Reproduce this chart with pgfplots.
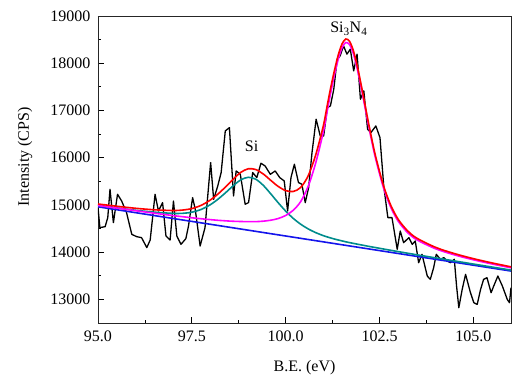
\documentclass[border=0pt]{standalone}
\usepackage{pgfplots}
\usepackage{pgfplotstable}
\pgfplotsset{compat=1.18}
\usepackage{fontspec}
\setmainfont{Liberation Serif}
\definecolor{fitred}{RGB}{255,0,0}
\definecolor{fitmag}{RGB}{255,0,255}
\definecolor{fitteal}{RGB}{0,140,140}
\definecolor{fitblue}{RGB}{20,20,235}

\pgfplotstableread{
x y
95.00 14943
95.05 14519
95.19 14540
95.26 14731
95.32 15331
95.41 14625
95.52 15225
95.63 15083
95.76 14837
95.90 14377
96.03 14328
96.16 14307
96.30 14096
96.39 14257
96.52 15225
96.61 14871
96.72 15049
96.81 14342
96.92 14257
97.01 15083
97.10 14342
97.21 14165
97.34 14286
97.41 14553
97.52 15155
97.59 14907
97.72 14130
97.85 14519
98.00 15897
98.08 15119
98.19 15402
98.28 15685
98.39 16566
98.50 16637
98.61 15190
98.68 15719
98.79 15649
98.92 15013
99.01 15049
99.12 15685
99.23 15579
99.34 15882
99.45 15825
99.59 15649
99.72 15719
99.84 15579
99.96 15508
100.05 14871
100.14 15579
100.23 15861
100.34 15473
100.43 15437
100.52 15049
100.61 15367
100.70 16108
100.81 16814
100.92 16460
101.01 16460
101.11 17062
101.19 17096
101.28 17450
101.37 18085
101.45 18156
101.54 18368
101.63 18192
101.72 18297
101.81 17838
101.90 18192
101.99 17238
102.08 17415
102.18 16602
102.27 16532
102.40 16672
102.51 16426
102.61 15402
102.72 14731
102.83 14731
102.97 14060
103.05 14448
103.14 14201
103.28 14307
103.37 14165
103.45 14236
103.54 13777
103.63 13954
103.77 13494
103.85 13424
103.94 13672
104.01 13954
104.12 13848
104.21 13883
104.30 13812
104.39 13777
104.49 13848
104.55 13283
104.61 12824
104.70 13212
104.79 13530
104.92 13142
105.01 12930
105.10 12894
105.19 13212
105.27 13424
105.36 13460
105.47 13142
105.54 13283
105.65 13494
105.77 13283
105.90 13000
105.96 12930
106.00 13250
}\rawdata

\pgfplotstableread{
x teal mag red
95.0 14990 14990 15020
95.5 14937 14933 14972
96.0 14887 14878 14929
96.5 14847 14825 14897
97.0 14821 14774 14882
97.25 14822 14751 14891
97.5 14846 14728 14923
97.75 14905 14707 14992
98.0 15009 14688 15108
98.2 15124 14674 15234
98.4 15260 14663 15383
98.6 15405 14654 15544
98.8 15529 14649 15688
99.0 15585 14646 15765
99.2 15545 14646 15750
99.4 15416 14656 15656
99.6 15236 14676 15521
99.8 15046 14712 15391
100.0 14868 14777 15303
100.2 14715 14887 15285
100.4 14591 15073 15371
100.6 14491 15398 15621
100.8 14413 15893 16063
101.0 14350 16538 16670
101.1 14324 16966 17084
101.2 14300 17384 17490
101.3 14277 17760 17856
101.4 14257 18089 18177
101.5 14238 18329 18410
101.6 14219 18438 18513
101.7 14202 18394 18464
101.8 14186 18205 18271
101.9 14170 17899 17962
102.0 14155 17521 17581
102.1 14140 17112 17169
102.2 14124 16702 16756
102.3 14110 16315 16367
102.4 14096 15960 16010
102.6 14067 15373 15419
102.8 14039 14945 14988
103.0 14011 14650 14690
103.25 13977 14411 14448
103.5 13943 14258 14292
104.0 13878 14069 14099
104.5 13813 13941 13968
105.0 13748 13838 13862
105.5 13684 13749 13771
106.0 13620 13669 13689
}\fitdata

\begin{document}
\begin{tikzpicture}[font=\fontsize{16}{19}\selectfont]
\path[use as bounding box] (-98pt,-54pt) rectangle (415pt,323pt);
\begin{axis}[
  at={(0pt,0pt)}, anchor=south west,
  scale only axis, width=413pt, height=307pt,
  xmin=95, xmax=106, ymin=12500, ymax=19000,
  xtick={95,97.5,100,102.5,105},
  ytick={13000,14000,15000,16000,17000,18000,19000},
  scaled y ticks=false, scaled x ticks=false,
  minor x tick num=1, minor y tick num=1,
  tick align=inside,
  xtick pos=left, ytick pos=left,
  major tick length=6pt, minor tick length=3.5pt,
  every tick/.style={black, line width=0.8pt},
  axis line style={line width=0.9pt, black!85},
  /pgf/number format/assume math mode=true,
  xticklabel style={/pgf/number format/fixed, /pgf/number format/fixed zerofill, /pgf/number format/precision=1, /pgf/number format/1000 sep={}, yshift=-4pt},
  yticklabel style={/pgf/number format/fixed, /pgf/number format/1000 sep={}, xshift=-4pt},
  xlabel={B.E. (eV)},
  ylabel={Intensity (CPS)},
  every axis x label/.style={at={(axis description cs:0.5,-0.1466)}, anchor=center},
  every axis y label/.style={at={(axis description cs:-0.1768,0.541)}, anchor=center, rotate=90},
  clip=true,
]
\addplot[black, line width=1.3pt, line join=round] table[x=x, y=y] {\rawdata};
\addplot[fitblue, line width=1.6pt] coordinates {(95,14960) (106,13600)};
\addplot[fitteal, line width=1.6pt, smooth] table[x=x, y=teal] {\fitdata};
\addplot[fitmag, line width=1.6pt, smooth] table[x=x, y=mag] {\fitdata};
\addplot[fitred, line width=1.6pt, smooth] table[x=x, y=red] {\fitdata};
\node[anchor=base] at (axis cs:99.09,16136) {Si};
\node[anchor=base] at (axis cs:101.68,18640) {Si\textsubscript{3}N\textsubscript{4}};
\end{axis}
\end{tikzpicture}
\end{document}
